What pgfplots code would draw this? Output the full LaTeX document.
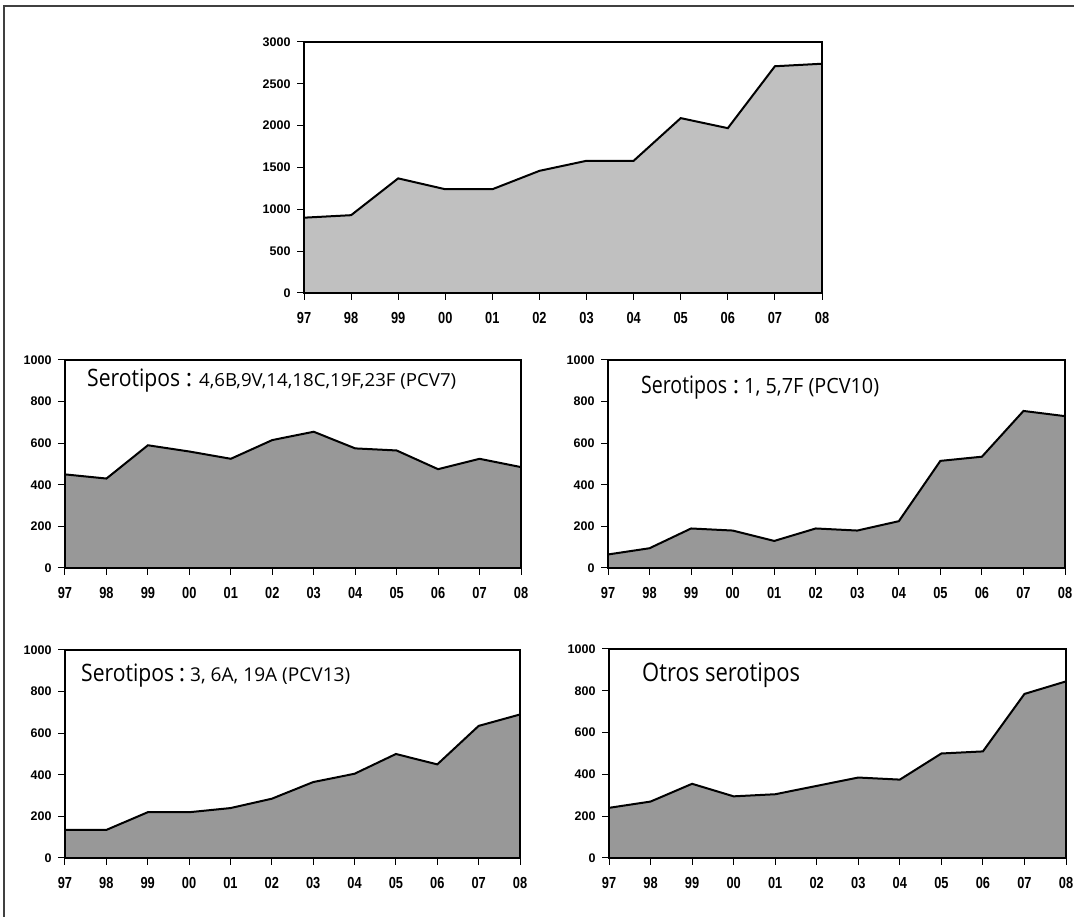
\documentclass[border=0pt]{standalone}
\usepackage{pgfplots}
\pgfplotsset{compat=1.18}
\usepackage{fontspec}
\setmainfont{Liberation Sans}
\newfontfamily\titlefont{Open Sans}
\definecolor{fillA}{RGB}{192,192,192}
\definecolor{fillB}{RGB}{152,152,152}
\newcommand\sx[1]{\scalebox{0.8}[1]{#1}}
\pgfplotsset{
  panel/.style={
    scale only axis, anchor=south west,
    xmin=0, xmax=11, ymin=0,
    xtick={0,...,11},
    xticklabels={\sx{97},\sx{98},\sx{99},\sx{00},\sx{01},\sx{02},\sx{03},\sx{04},\sx{05},\sx{06},\sx{07},\sx{08}},
    tick align=outside, xtick pos=bottom, ytick pos=left,
    major tick length=7pt,
    axis line style={line width=1.6pt},
    every tick/.style={black, line width=1pt},
    yticklabel style={font=\bfseries\fontsize{12.5}{12.5}\selectfont, xshift=-3pt},
    xticklabel style={font=\bfseries\fontsize{16}{16}\selectfont, yshift=-9pt},
    /pgf/number format/assume math mode=true,
    /pgf/number format/1000 sep={},
    axis on top,
  },
  area/.style={fill=#1, draw=none},
  edge/.style={black, line width=2pt, mark=none},
}
\newcommand\ttl[3]{\resizebox{#1}{\height}{\titlefont\fontsize{#2}{#2}\selectfont #3}}
\begin{document}
\begin{tikzpicture}
\useasboundingbox (0pt,0pt) rectangle (1074pt,917pt);
\draw[line width=1.5pt, black!75] (4pt,0pt) -- (4pt,911pt) -- (1074pt,911pt);

% Top: total
\begin{axis}[panel, at={(304pt,624pt)}, width=518pt, height=251pt,
  ymax=3000, ytick={0,500,...,3000}]
\addplot[area=fillA] coordinates {(0,900)(1,930)(2,1370)(3,1240)(4,1240)(5,1460)(6,1580)(7,1580)(8,2090)(9,1970)(10,2710)(11,2740)} \closedcycle;
\addplot[edge] coordinates {(0,900)(1,930)(2,1370)(3,1240)(4,1240)(5,1460)(6,1580)(7,1580)(8,2090)(9,1970)(10,2710)(11,2740)};
\end{axis}

% Middle left: PCV7
\begin{axis}[panel, at={(65pt,349pt)}, width=456pt, height=208pt,
  ymax=1000, ytick={0,200,...,1000}]
\addplot[area=fillB] coordinates {(0,450)(1,430)(2,590)(3,560)(4,525)(5,615)(6,655)(7,575)(8,565)(9,475)(10,525)(11,485)} \closedcycle;
\addplot[edge] coordinates {(0,450)(1,430)(2,590)(3,560)(4,525)(5,615)(6,655)(7,575)(8,565)(9,475)(10,525)(11,485)};
\end{axis}

% Middle right: PCV10
\begin{axis}[panel, at={(608pt,349pt)}, width=457pt, height=208pt,
  ymax=1000, ytick={0,200,...,1000}]
\addplot[area=fillB] coordinates {(0,65)(1,95)(2,190)(3,180)(4,130)(5,190)(6,180)(7,225)(8,515)(9,535)(10,755)(11,730)} \closedcycle;
\addplot[edge] coordinates {(0,65)(1,95)(2,190)(3,180)(4,130)(5,190)(6,180)(7,225)(8,515)(9,535)(10,755)(11,730)};
\end{axis}

% Bottom left: PCV13
\begin{axis}[panel, at={(65pt,59pt)}, width=455pt, height=208pt,
  ymax=1000, ytick={0,200,...,1000}]
\addplot[area=fillB] coordinates {(0,135)(1,135)(2,220)(3,220)(4,240)(5,285)(6,365)(7,405)(8,500)(9,450)(10,635)(11,690)} \closedcycle;
\addplot[edge] coordinates {(0,135)(1,135)(2,220)(3,220)(4,240)(5,285)(6,365)(7,405)(8,500)(9,450)(10,635)(11,690)};
\end{axis}

% Bottom right: otros
\begin{axis}[panel, at={(609pt,59pt)}, width=457pt, height=209pt,
  ymax=1000, ytick={0,200,...,1000}]
\addplot[area=fillB] coordinates {(0,240)(1,270)(2,355)(3,295)(4,305)(5,345)(6,385)(7,375)(8,500)(9,510)(10,785)(11,845)} \closedcycle;
\addplot[edge] coordinates {(0,240)(1,270)(2,355)(3,295)(4,305)(5,345)(6,385)(7,375)(8,500)(9,510)(10,785)(11,845)};
\end{axis}

% Panel titles
\begin{scope}[every node/.style={inner sep=0pt, anchor=base west}]
\node at (87pt,530pt) {\ttl{93pt}{24}{Serotipos}};
\node[anchor=base] at (189pt,530pt) {\titlefont\fontsize{24}{24}\selectfont :};
\node at (199pt,530pt) {\ttl{257pt}{18}{4,6B,9V,14,18C,19F,23F (PCV7)}};

\node at (641pt,523pt) {\ttl{86pt}{24}{Serotipos}};
\node[anchor=base] at (736pt,523pt) {\titlefont\fontsize{24}{24}\selectfont :};
\node at (744pt,523pt) {\ttl{135pt}{21}{1, 5,7F (PCV10)}};

\node at (81pt,235pt) {\ttl{93pt}{24}{Serotipos}};
\node[anchor=base] at (182pt,235pt) {\titlefont\fontsize{24}{24}\selectfont :};
\node at (190pt,235pt) {\ttl{160pt}{19}{3, 6A, 19A (PCV13)}};

\node at (642pt,235pt) {\ttl{158pt}{25.5}{Otros serotipos}};
\end{scope}
\end{tikzpicture}
\end{document}
